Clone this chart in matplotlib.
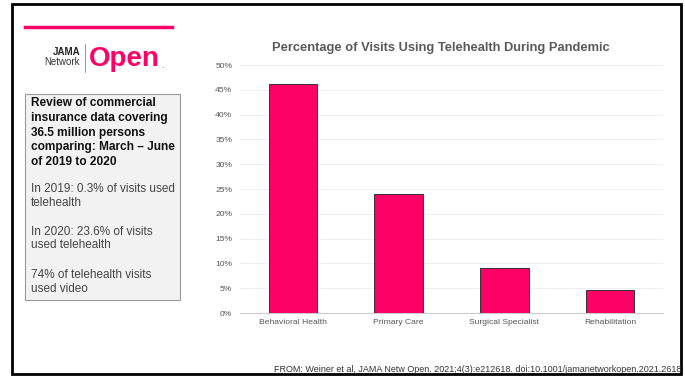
'''Telehealth visits during pandemic - slide recreation'''
import matplotlib
matplotlib.use('Agg')
import matplotlib.pyplot as plt
from matplotlib.patches import Rectangle
from matplotlib.lines import Line2D

# data
categories = ['Behavioral Health', 'Primary Care', 'Surgical Specialist', 'Rehabilitation']
pct_visits = [46.2, 24.0, 9.1, 4.6]
ytick_vals = [0, 5, 10, 15, 20, 25, 30, 35, 40, 45, 50]
ytick_labels = [f'{v}%' for v in ytick_vals]
header_lines = ['Review of commercial', 'insurance data covering', '36.5 million persons',
                'comparing: March \u2013 June', 'of 2019 to 2020']
body_lines = [['In 2019: 0.3% of visits used', 'telehealth'],
              ['In 2020: 23.6% of visits', 'used telehealth'],
              ['74% of telehealth visits', 'used video']]

PINK = '#ff0066'
W, H = 685, 378

plt.rcParams['font.family'] = ['Liberation Sans', 'DejaVu Sans']
fig = plt.figure(figsize=(W / 100, H / 100), dpi=100)

def fx(px):
    return px / W

def fy(py):
    return 1 - py / H

# outer slide frame
fig.add_artist(Rectangle((fx(12), fy(374)), fx(669), 370 / H, transform=fig.transFigure,
                         fill=False, edgecolor='black', linewidth=2))
# pink rule at top left
fig.add_artist(Line2D([fx(25), fx(172)], [fy(27), fy(27)], transform=fig.transFigure,
                      color=PINK, linewidth=2.5))

# logo
fig.text(fx(80), fy(52), 'JAMA', ha='right', va='center', fontsize=7, fontweight='bold', color='#222222')
fig.text(fx(80), fy(62), 'Network', ha='right', va='center', fontsize=7, color='#333333')
fig.add_artist(Line2D([fx(85), fx(85)], [fy(44), fy(72)], transform=fig.transFigure,
                      color='#888888', linewidth=0.6))
fig.text(fx(89), fy(59), 'Open', ha='left', va='center', fontsize=20, fontweight='bold', color=PINK)
fig.text(fx(161), fy(66), '.', ha='left', va='center', fontsize=6, color='#444444')

# summary box
fig.add_artist(Rectangle((fx(25), fy(300)), fx(155), 206 / H, transform=fig.transFigure,
                         facecolor='#f2f2f2', edgecolor='#999999', linewidth=0.8))
for i, line in enumerate(header_lines):
    fig.text(fx(31), fy(103.5 + i * 14.6), line, ha='left', va='center', fontsize=8.6,
             fontweight='bold', color='#111111')
for i, para in enumerate(body_lines):
    for j, line in enumerate(para):
        fig.text(fx(31), fy(189 + i * 43 + j * 13.5), line, ha='left', va='center',
                 fontsize=8.5, color='#444444')

# chart
ax = fig.add_axes([fx(240), fy(313), fx(663 - 240), (313 - 65) / H])
x = range(len(categories))
ax.bar(x, pct_visits, width=0.46, color=PINK, edgecolor='#333333', linewidth=0.7, zorder=3)
ax.set_xlim(-0.5, len(categories) - 0.5)
ax.set_ylim(0, 50)
ax.set_yticks(ytick_vals)
ax.set_yticklabels(ytick_labels)
ax.set_xticks(list(x))
ax.set_xticklabels(categories)
ax.tick_params(axis='both', length=0, labelsize=6.1, colors='#555555')
ax.tick_params(axis='y', pad=5.5)
ax.tick_params(axis='x', pad=4.5)
ax.grid(axis='y', color='#eeeeee', linewidth=0.7, zorder=0)
for s in ['top', 'right', 'left']:
    ax.spines[s].set_visible(False)
ax.spines['bottom'].set_color('#cccccc')
ax.spines['bottom'].set_linewidth(0.8)
fig.text(fx(441), fy(48), 'Percentage of Visits Using Telehealth During Pandemic', ha='center',
         va='center', fontsize=9.3, fontweight='bold', color='#595959')

# footer
fig.text(fx(274), fy(369), 'FROM: Weiner et al, JAMA Netw Open. 2021;4(3):e212618. '
         'doi:10.1001/jamanetworkopen.2021.2618', ha='left', va='center', fontsize=6.45,
         color='#333333')

fig.savefig('out.png', dpi=100)
